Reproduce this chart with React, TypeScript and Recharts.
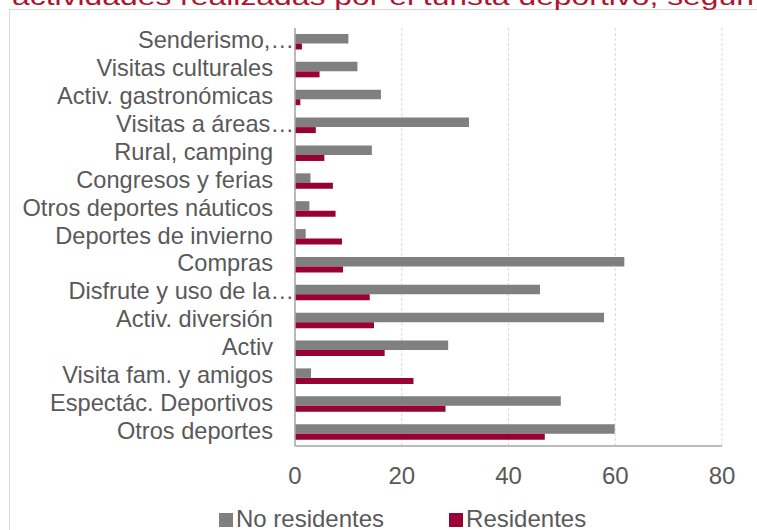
import React from "react";
import { BarChart, Bar, XAxis, YAxis, CartesianGrid } from "recharts";

const categories = [
  "Senderismo,…",
  "Visitas culturales",
  "Activ. gastronómicas",
  "Visitas a áreas…",
  "Rural, camping",
  "Congresos y ferias",
  "Otros deportes náuticos",
  "Deportes de invierno",
  "Compras",
  "Disfrute y uso de la…",
  "Activ. diversión",
  "Activ",
  "Visita fam. y amigos",
  "Espectác. Deportivos",
  "Otros deportes",
];
const noResidentes = [10.0, 11.7, 16.1, 32.6, 14.4, 2.9, 2.7, 2.0, 61.7, 45.9, 57.9, 28.7, 3.0, 49.8, 59.9];
const residentes = [1.3, 4.6, 1.0, 3.9, 5.5, 7.1, 7.6, 8.8, 9.0, 14.0, 14.8, 16.8, 22.2, 28.2, 46.8];
const xTicks = [0, 20, 40, 60, 80];
const titleText = "actividades realizadas por el turista deportivo, según";
const seriesNames = ["No residentes", "Residentes"];

const data = categories.map((name, i) => ({
  name,
  noRes: noResidentes[i],
  res: residentes[i],
}));

const FONT = "'Liberation Sans', Arial, sans-serif";
const GRAY = "#808080";
const RED = "#990033";
const TEXT = "#595959";
const seriesColors = [GRAY, RED];

const YTick = (props: any) => {
  const { x, y, payload } = props;
  const label: string = payload.value;
  const truncated = label.endsWith("…");
  return (
    <text
      x={truncated ? x - 1 : x - 22}
      y={y}
      dy={6.5}
      textAnchor="end"
      fontSize={23.6}
      fontFamily={FONT}
      fill={TEXT}
    >
      {label}
    </text>
  );
};

const XTick = (props: any) => {
  const { x, y, payload } = props;
  return (
    <text x={x} y={y} dy={37.5} textAnchor="middle" fontSize={24} fontFamily={FONT} fill={TEXT}>
      {payload.value}
    </text>
  );
};

export default function App() {
  return (
    <div style={{ position: "fixed", left: 0, top: 0, width: 757, height: 530, overflow: "hidden", background: "#fff" }}>
      <div
        style={{
          position: "absolute",
          left: 9,
          top: 9,
          width: 900,
          height: 700,
          border: "1.5px solid #d9d9d9",
          boxSizing: "border-box",
        }}
      />
      <div style={{ position: "absolute", left: 0, top: 0 }}>
        <BarChart
          width={757}
          height={530}
          data={data}
          layout="vertical"
          margin={{ top: 28, right: 35, bottom: 54, left: 0 }}
          barGap={0}
        >
          <text
            x={12}
            y={5}
            fontSize={23}
            fontFamily={FONT}
            fill="#ad1430"
            textLength={742}
            lengthAdjust="spacingAndGlyphs"
          >
            {titleText}
          </text>
          <CartesianGrid horizontal={false} stroke="#d9d9d9" strokeDasharray="3 2" />
          <XAxis
            type="number"
            domain={[0, 80]}
            ticks={xTicks}
            height={30}
            tickLine={false}
            tickSize={0}
            tickMargin={0}
            axisLine={{ stroke: "#a6a6a6", strokeWidth: 1.5 }}
            tick={<XTick />}
            interval={0}
          />
          <YAxis
            type="category"
            dataKey="name"
            width={295}
            tickLine={false}
            tickSize={0}
            tickMargin={0}
            axisLine={{ stroke: "#a6a6a6", strokeWidth: 1.5 }}
            tick={<YTick />}
            interval={0}
          />
          <Bar dataKey="noRes" name={seriesNames[0]} fill={GRAY} barSize={9.5} isAnimationActive={false} />
          <Bar dataKey="res" name={seriesNames[1]} fill={RED} barSize={6} isAnimationActive={false} />
        </BarChart>
      </div>
      <div
        style={{
          position: "absolute",
          left: 219,
          top: 507,
          display: "flex",
          fontFamily: FONT,
          fontSize: 24,
          lineHeight: "24px",
          color: TEXT,
          whiteSpace: "nowrap",
        }}
      >
        {seriesNames.map((label, i) => (
          <div key={label} style={{ display: "flex", alignItems: "flex-start", marginLeft: i === 0 ? 0 : 65 }}>
            <span style={{ display: "inline-block", width: 14, height: 14, background: seriesColors[i], marginTop: 6, marginRight: 3 }} />
            <span>{label}</span>
          </div>
        ))}
      </div>
    </div>
  );
}
